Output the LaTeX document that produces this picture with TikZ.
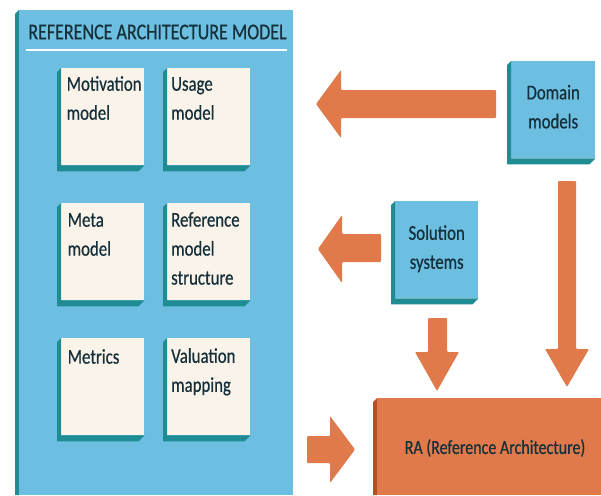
\documentclass[tikz,border=0pt]{standalone}
\usepackage{fontspec}
\setmainfont{Carlito}[FakeStretch=0.8, FakeBold=0.6]
\definecolor{panelblue}{HTML}{6DBFE1}
\definecolor{shadowteal}{HTML}{1E8C92}
\definecolor{cardcream}{HTML}{FAF3EA}
\definecolor{orng}{HTML}{E17A4B}
\definecolor{orngdark}{HTML}{B44E28}
\definecolor{inkc}{HTML}{15303A}
\tikzset{
  facebox/.style={draw=none, inner sep=0pt, anchor=north west},
  cardface/.style={facebox, fill=cardcream, minimum width=83pt, minimum height=97pt},
  blueface/.style={facebox, fill=panelblue, minimum width=84pt, minimum height=97pt},
  cardtext/.style={inner sep=0pt, anchor=north west, align=left, text=inkc, font=\fontsize{21}{29}\selectfont},
  boxtext/.style={inner sep=0pt, align=center, text=inkc, font=\fontsize{21}{29}\selectfont},
  arrowfill/.style={fill=orng, rounded corners=1pt},
}
% L-shaped shadow of a face node, to its lower-left
\newcommand\faceshadow[1]{%
  \fill[shadowteal] (#1.north west) -- ([shift={(-4pt,-4pt)}]#1.north west) -- ([shift={(-4pt,-6pt)}]#1.south west) -- ([shift={(-6pt,-6pt)}]#1.south east) -- (#1.south east) -- (#1.south west) -- cycle;}
\begin{document}
\begin{tikzpicture}[x=1pt,y=-1pt]
\useasboundingbox[fill=white] (0,0) rectangle (601,495);
% panel
\fill[shadowteal] (15,14) -- (19,10) -- (19,495) -- (15,495) -- cycle;
\node[facebox, fill=panelblue, minimum width=274pt, minimum height=485pt] (panel) at (19,10) {};
\node[inner sep=0pt, text=inkc, font=\fontsize{22.5}{26}\selectfont] (title) at (157.5,32) {REFERENCE ARCHITECTURE MODEL};
\draw[white, line width=2pt] (26,50) -- (287,50);
% cards
\node[cardface] (mot) at (61,68) {};
\node[cardface] (use) at (167,68) {};
\node[cardface] (meta) at (61,203) {};
\node[cardface] (ref) at (167,203) {};
\node[cardface] (metr) at (61,338) {};
\node[cardface] (val) at (167,338) {};
\foreach \c in {mot,use,meta,ref,metr,val}{\faceshadow{\c}}
\node[cardtext] (motT) at (66.5,76) {Motivation\\model};
\node[cardtext] (useT) at (171,77) {Usage\\model};
\node[cardtext] (metaT) at (67.5,213) {Meta\\model};
\node[cardtext] (refT) at (171,212) {Reference\\model\\structure};
\node[cardtext] (metrT) at (67.5,349) {Metrics};
\node[cardtext] (valT) at (171,348) {Valuation\\mapping};
% blue boxes
\node[blueface] (dom) at (511,61) {};
\faceshadow{dom}
\node[boxtext] (domT) at ([yshift=3pt]dom.center) {Domain\\models};
\node[facebox, fill=panelblue, minimum width=83pt, minimum height=97pt] (sol) at (395,201) {};
\faceshadow{sol}
\node[boxtext] (solT) at ([yshift=1pt]sol.center) {Solution\\systems};
% RA box
\fill[orngdark] (373,402) -- (377,398) -- (377,495) -- (373,495) -- cycle;
\node[facebox, fill=orng, minimum width=224pt, minimum height=97pt] (ra) at (377,398) {};
\node[boxtext, font=\fontsize{20}{24}\selectfont] (raT) at (495,448) {RA (Reference Architecture)};
% block arrows
\fill[arrowfill] (496,90) -- (341,90) -- (341,70) -- (316,104) -- (341,138) -- (341,118) -- (496,118) -- cycle;
\fill[arrowfill] (558,181) -- (558,349) -- (545,349) -- (567,387) -- (589,349) -- (576,349) -- (576,181) -- cycle;
\fill[arrowfill] (381,234) -- (342,234) -- (342,215) -- (318,249) -- (342,283) -- (342,262) -- (381,262) -- cycle;
\fill[arrowfill] (428,318) -- (428,352) -- (415,352) -- (437,391) -- (459,352) -- (447,352) -- (447,318) -- cycle;
\fill[arrowfill] (307,436) -- (330,436) -- (330,416) -- (355,449.5) -- (330,483) -- (330,463) -- (307,463) -- cycle;
\end{tikzpicture}
\end{document}
